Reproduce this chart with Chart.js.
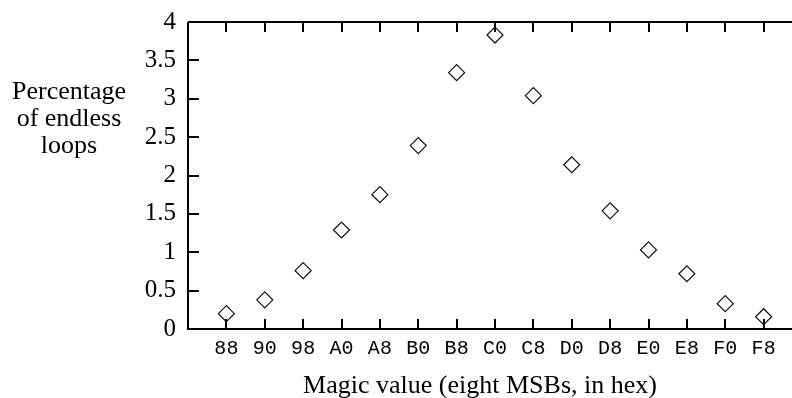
<!DOCTYPE html>
<html>
<head>
<meta charset="utf-8">
<script src="https://cdn.jsdelivr.net/npm/chart.js@4"></script>
<style>
  html, body { margin: 0; padding: 0; background: #fff; overflow: hidden; }
  #wrap { width: 820px; height: 398px; }
</style>
</head>
<body>
<div id="wrap"><canvas id="myChart"></canvas></div>
<script>
const magicValues = ['88', '90', '98', 'A0', 'A8', 'B0', 'B8', 'C0', 'C8', 'D0', 'D8', 'E0', 'E8', 'F0', 'F8']
const endlessPct = [0.20, 0.38, 0.76, 1.29, 1.75, 2.39, 3.34, 3.83, 3.04, 2.14, 1.54, 1.03, 0.72, 0.33, 0.16]
const yTicks = [0, 0.5, 1, 1.5, 2, 2.5, 3, 3.5, 4]
const yTitle = ['Percentage', 'of endless', 'loops']
const xTitle = 'Magic value (eight MSBs, in hex)'

const serif = '"Liberation Serif", "Times New Roman", serif'
const mono = '"Liberation Mono", "Courier New", monospace'

const ctx = document.getElementById('myChart')

// x is the magic value itself, the axis runs 0x80..0x100 (right end is cut off by the page)
const xMin = 0x80
const xMax = 0x100
const points = magicValues.map((m, i) => ({ x: parseInt(m, 16), y: endlessPct[i] }))

// axes with inward ticks, like the original plot, plus the two axis titles
const frame = {
  id: 'frame',
  afterDraw(chart) {
    const { ctx, chartArea, scales: { x, y } } = chart
    const left = Math.round(chartArea.left)
    const right = Math.round(chartArea.right)
    const top = Math.round(chartArea.top)
    const bottom = Math.round(chartArea.bottom)
    ctx.save()
    ctx.strokeStyle = '#000'
    ctx.lineWidth = 2
    ctx.beginPath()
    ctx.moveTo(left, top)
    ctx.lineTo(left, bottom)
    ctx.lineTo(right, bottom)
    ctx.moveTo(left, top)
    ctx.lineTo(right, top)
    magicValues.forEach(m => {
      const px = Math.round(x.getPixelForValue(parseInt(m, 16)))
      ctx.moveTo(px, bottom)
      ctx.lineTo(px, bottom - 10)
      ctx.moveTo(px, top)
      ctx.lineTo(px, top + 10)
    })
    yTicks.forEach(v => {
      const py = Math.round(y.getPixelForValue(v))
      ctx.moveTo(left, py)
      ctx.lineTo(left + 11, py)
    })
    ctx.stroke()

    ctx.fillStyle = '#000'
    ctx.font = '26px ' + serif
    ctx.textAlign = 'center'
    ctx.textBaseline = 'alphabetic'
    yTitle.forEach((line, i) => {
      ctx.fillText(line, 69, 99 + i * 27)
    })
    ctx.fillText(xTitle, 480, 393)
    ctx.restore()
  }
}

let myChart

function renderChart() {
  if (myChart) {
    myChart.destroy()
  }

  myChart = new Chart(ctx, {
    type: 'scatter',
    data: {
      datasets: [{
        data: points,
        pointStyle: 'rectRot',
        pointRadius: 8,
        pointHoverRadius: 8,
        borderWidth: 1.2,
        borderColor: '#111',
        backgroundColor: 'rgba(0,0,0,0)'
      }]
    },
    options: {
      responsive: true,
      maintainAspectRatio: false,
      animation: false,
      events: [],
      layout: {
        padding: { top: 22, right: 18, bottom: 0, left: 0 }
      },
      plugins: {
        legend: { display: false },
        tooltip: { enabled: false }
      },
      scales: {
        x: {
          type: 'linear',
          min: xMin,
          max: xMax,
          grid: { display: false, drawTicks: false },
          border: { display: false },
          afterFit: (scale) => { scale.height = 69 },
          ticks: {
            stepSize: 8,
            autoSkip: false,
            maxRotation: 0,
            padding: 8,
            color: '#000',
            font: { family: mono, size: 20 },
            callback: (v) => (v > xMin && v < xMax) ? v.toString(16).toUpperCase() : ''
          }
        },
        y: {
          min: 0,
          max: 4,
          grid: { display: false, drawTicks: false },
          border: { display: false },
          afterFit: (scale) => {
            scale.width = 188
            scale.paddingTop = 0
            scale.paddingBottom = 0
          },
          ticks: {
            stepSize: 0.5,
            padding: 12,
            color: '#000',
            font: { family: serif, size: 25 },
            callback: (v) => String(v)
          }
        }
      }
    },
    plugins: [frame]
  })
}

renderChart()
</script>
</body>
</html>
